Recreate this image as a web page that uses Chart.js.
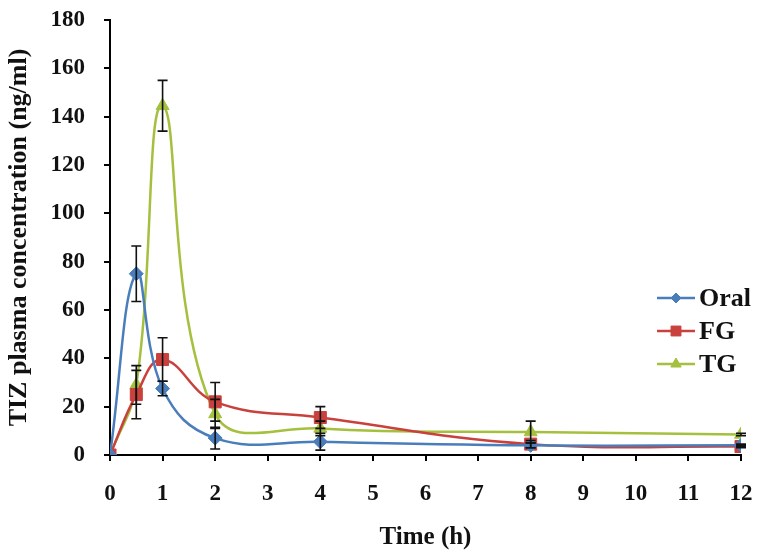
<!DOCTYPE html>
<html>
<head>
<meta charset="utf-8">
<script src="https://cdn.jsdelivr.net/npm/chart.js@4/dist/chart.umd.min.js"></script>
<style>
  html, body { margin: 0; padding: 0; background: #fff; }
  #wrap { width: 760px; height: 553px; }
</style>
</head>
<body>
<div id="wrap"><canvas id="pkChart" width="760" height="553"></canvas></div>
<script>
// Data
var timeH = [0, 0.5, 1, 2, 4, 8, 12];
var oral = [0, 75, 27.5, 7, 5.5, 4, 4];
var oralErr = [0, 11.5, 3, 4.5, 3.5, 1, 0.5];
var fg = [0, 25, 39.5, 22, 15.5, 4.5, 3.5];
var fgErr = [0, 10, 9, 8, 4.5, 1.5, 0.5];
var tg = [0, 29, 144.5, 17, 11, 9.5, 8.5];
var tgErr = [0, 8, 10.5, 6, 3, 4.5, 0.5];
var xTicks = [0, 1, 2, 3, 4, 5, 6, 7, 8, 9, 10, 11, 12];

var fontFamily = '"Liberation Serif", "Times New Roman", serif';

var toPoints = function (ys) {
    var pts = [];
    for (var i = 0; i < timeH.length; i++) {
        pts.push({ x: timeH[i], y: ys[i] });
    }
    return pts;
};

var makeSet = function (label, ys, errs, color, style, radius, legendRadius) {
    return {
        label: label,
        data: toPoints(ys),
        errors: errs,
        legendRadius: legendRadius,
        borderColor: color,
        backgroundColor: color,
        pointBackgroundColor: color,
        pointBorderColor: color,
        pointStyle: style,
        pointRadius: radius,
        pointBorderWidth: 1,
        borderWidth: 2.5,
        tension: 0.42,
        fill: false
    };
};

// error bars, drawn through the chart scales
var errorBars = {
    id: 'errorBars',
    afterDatasetsDraw: function (chart) {
        var ctx = chart.ctx;
        var xs = chart.scales.x, ys = chart.scales.y;
        ctx.save();
        ctx.strokeStyle = '#111';
        ctx.lineWidth = 1.6;
        chart.data.datasets.forEach(function (ds) {
            ds.data.forEach(function (p, i) {
                var e = ds.errors[i];
                if (!e) return;
                var px = xs.getPixelForValue(p.x);
                var top = ys.getPixelForValue(p.y + e);
                var bot = ys.getPixelForValue(p.y - e);
                ctx.beginPath();
                ctx.moveTo(px, top); ctx.lineTo(px, bot);
                ctx.moveTo(px - 5, top); ctx.lineTo(px + 5, top);
                ctx.moveTo(px - 5, bot); ctx.lineTo(px + 5, bot);
                ctx.stroke();
            });
        });
        ctx.restore();
    }
};

// legend inside the plot, line with marker in the middle
var sideLegend = {
    id: 'sideLegend',
    afterDraw: function (chart) {
        var ctx = chart.ctx;
        var x0 = 657, x1 = 695, yStart = 298, gap = 33;
        ctx.save();
        ctx.font = 'bold 26px ' + fontFamily;
        ctx.textBaseline = 'middle';
        ctx.textAlign = 'left';
        chart.data.datasets.forEach(function (ds, i) {
            var y = yStart + i * gap;
            ctx.strokeStyle = ds.borderColor;
            ctx.lineWidth = ds.borderWidth;
            ctx.beginPath();
            ctx.moveTo(x0, y); ctx.lineTo(x1, y);
            ctx.stroke();
            ctx.fillStyle = ds.pointBackgroundColor;
            ctx.lineWidth = 1;
            Chart.helpers.drawPoint(ctx, { pointStyle: ds.pointStyle, radius: ds.legendRadius, rotation: 0, borderWidth: 1 }, (x0 + x1) / 2, y);
            ctx.fillStyle = '#111';
            ctx.fillText(ds.label, x1 + 4, y + 1);
        });
        ctx.restore();
    }
};

var ctx = document.getElementById('pkChart').getContext('2d');
new Chart(ctx, {
    type: 'line',
    data: {
        datasets: [
            makeSet('Oral', oral, oralErr, '#4A7EBB', 'rectRot', 7, 5),
            makeSet('FG', fg, fgErr, '#C9413D', 'rect', 8.5, 7),
            makeSet('TG', tg, tgErr, '#A4C03E', 'triangle', 7.5, 6)
        ]
    },
    options: {
        responsive: false,
        animation: false,
        layout: { padding: { top: 20, right: 19, left: 0, bottom: 0 } },
        plugins: {
            legend: { display: false },
            tooltip: { enabled: false }
        },
        scales: {
            x: {
                type: 'linear',
                min: 0,
                max: 12,
                afterBuildTicks: function (scale) {
                    scale.ticks = xTicks.map(function (v) { return { value: v }; });
                },
                afterFit: function (scale) {
                    scale.height = 98;
                    scale.paddingLeft = 0;
                    scale.paddingRight = 0;
                },
                grid: { drawOnChartArea: false, drawTicks: true, tickLength: 6, color: '#000', lineWidth: 2 },
                border: { color: '#000', width: 2 },
                ticks: { color: '#111', padding: 19, font: { family: fontFamily, size: 23, weight: 'bold' } },
                title: {
                    display: true,
                    text: 'Time (h)',
                    color: '#111',
                    padding: { top: 0, bottom: 0 },
                    font: { family: fontFamily, size: 25, weight: 'bold' }
                }
            },
            y: {
                min: 0,
                max: 180,
                afterFit: function (scale) {
                    scale.width = 110;
                    scale.paddingTop = 0;
                    scale.paddingBottom = 0;
                },
                grid: { drawOnChartArea: false, drawTicks: true, tickLength: 6, color: '#000', lineWidth: 2 },
                border: { color: '#000', width: 2 },
                ticks: { stepSize: 20, color: '#111', padding: 19, font: { family: fontFamily, size: 23, weight: 'bold' } },
                title: {
                    display: true,
                    text: 'TIZ plasma concentration (ng/ml)',
                    color: '#111',
                    padding: { top: 4, bottom: 0 },
                    font: { family: fontFamily, size: 26, weight: 'bold' }
                }
            }
        }
    },
    plugins: [errorBars, sideLegend]
});
</script>
</body>
</html>
